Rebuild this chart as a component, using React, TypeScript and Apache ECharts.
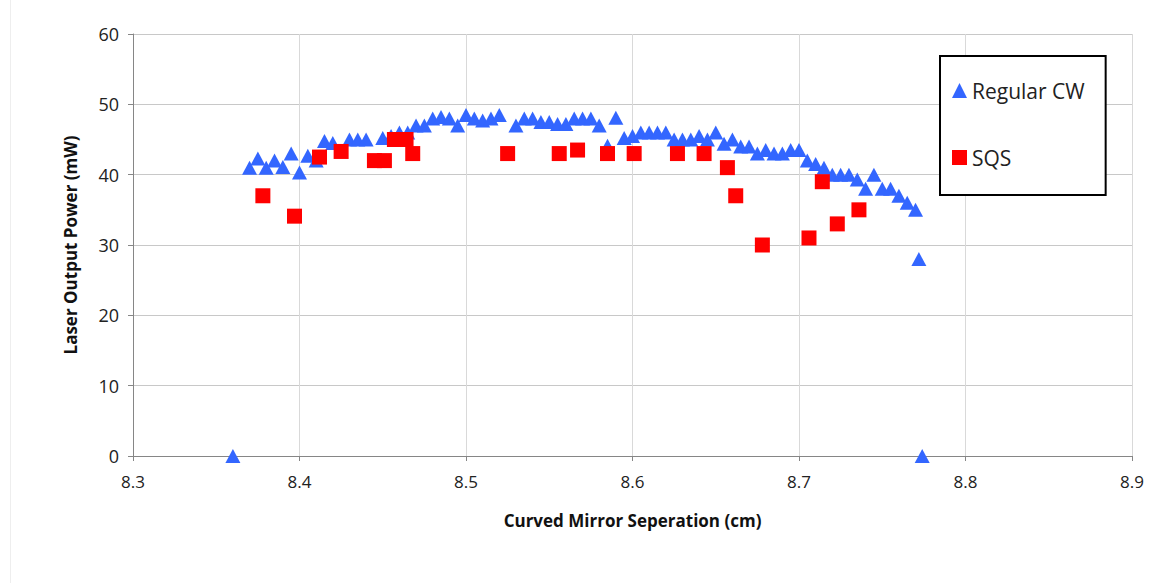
import React, { useEffect, useRef } from "react";
import * as echarts from "echarts";

const xTicks = ["8.3", "8.4", "8.5", "8.6", "8.7", "8.8", "8.9"];
const yTicks = [0, 10, 20, 30, 40, 50, 60];

const regularCW: [number, number][] = [
  [8.36, 0], [8.37, 41], [8.375, 42.3], [8.38, 41], [8.385, 42], [8.39, 41.1],
  [8.395, 43], [8.4, 40.3], [8.405, 42.7], [8.41, 42], [8.415, 44.8], [8.42, 44.5],
  [8.43, 45], [8.435, 45], [8.44, 45], [8.45, 45.2], [8.455, 45.5], [8.46, 46],
  [8.465, 46], [8.47, 47], [8.475, 47], [8.48, 48], [8.485, 48.2], [8.49, 48],
  [8.495, 47], [8.5, 48.5], [8.505, 48], [8.51, 47.7], [8.515, 48], [8.52, 48.5],
  [8.53, 47], [8.535, 48], [8.54, 48], [8.545, 47.5], [8.55, 47.5], [8.555, 47.2],
  [8.56, 47.2], [8.565, 48], [8.57, 48], [8.575, 48], [8.58, 47], [8.585, 44.1],
  [8.59, 48.1], [8.595, 45.2], [8.6, 45.5], [8.605, 46], [8.61, 46], [8.615, 46],
  [8.62, 46], [8.625, 45], [8.63, 45], [8.635, 45], [8.64, 45.5], [8.645, 45],
  [8.65, 46], [8.655, 44.4], [8.66, 45], [8.665, 44], [8.67, 44], [8.675, 43],
  [8.68, 43.5], [8.685, 43], [8.69, 43], [8.695, 43.5], [8.7, 43.5], [8.705, 42],
  [8.71, 41.5], [8.715, 41], [8.72, 40], [8.725, 40], [8.73, 40], [8.735, 39.3],
  [8.74, 38], [8.745, 40], [8.75, 38], [8.755, 38], [8.76, 37], [8.765, 36],
  [8.77, 35], [8.772, 28], [8.774, 0],
];

const sqs: [number, number][] = [
  [8.378, 37], [8.397, 34.1], [8.412, 42.5], [8.425, 43.3], [8.445, 42], [8.451, 42],
  [8.457, 45], [8.464, 45], [8.468, 43], [8.525, 43], [8.556, 43], [8.567, 43.5],
  [8.585, 43], [8.601, 43], [8.627, 43], [8.643, 43], [8.657, 41], [8.662, 37],
  [8.678, 30], [8.706, 31], [8.714, 39], [8.723, 33], [8.736, 35],
];

const FONT = "'Open Sans', 'Noto Sans', sans-serif";

export default function App() {
  const ref = useRef<HTMLDivElement>(null);
  useEffect(() => {
    if (!ref.current) return;
    const chart = echarts.init(ref.current, undefined, { renderer: "svg" });
    chart.setOption({
      animation: false,
      backgroundColor: "#ffffff",
      textStyle: { fontFamily: FONT },
      grid: { left: 133, top: 34, right: 25, bottom: 127, containLabel: false },
      graphic: [
        {
          type: "line",
          shape: { x1: 10.5, y1: 0, x2: 10.5, y2: 583 },
          style: { stroke: "#eeeeee", lineWidth: 1 },
          silent: true,
        },
      ],
      legend: {
        orient: "vertical",
        left: 940,
        top: 56,
        padding: [24, 21, 27, 12],
        itemGap: 46,
        itemWidth: 15,
        itemHeight: 15,
        borderColor: "#000000",
        borderWidth: 2,
        borderRadius: 0,
        backgroundColor: "#ffffff",
        textStyle: { fontSize: 21, color: "#222222", fontFamily: FONT },
        data: [
          { name: "Regular CW", icon: "triangle" },
          { name: "SQS", icon: "rect" },
        ],
      },
      xAxis: {
        type: "value",
        min: 8.3,
        max: 8.9,
        interval: 0.1,
        name: "Curved Mirror Seperation (cm)",
        nameLocation: "middle",
        nameGap: 56,
        nameTextStyle: { fontSize: 17, fontWeight: "bold", color: "#111111", fontFamily: FONT },
        axisLine: { show: true, onZero: false, lineStyle: { color: "#868686", width: 1 } },
        axisTick: { show: true, length: 5, lineStyle: { color: "#868686" } },
        axisLabel: {
          fontSize: 17,
          color: "#222222",
          margin: 17,
          formatter: (v: number) => {
            const s = v.toFixed(1);
            return xTicks.includes(s) ? s : "";
          },
        },
        splitLine: { show: true, lineStyle: { color: "#d9d9d9", width: 1 } },
      },
      yAxis: {
        type: "value",
        min: yTicks[0],
        max: yTicks[yTicks.length - 1],
        interval: 10,
        name: "Laser Output Power (mW)",
        nameLocation: "middle",
        nameGap: 54,
        nameRotate: 90,
        nameTextStyle: { fontSize: 17, fontWeight: "bold", color: "#111111", fontFamily: FONT },
        axisLine: { show: true, lineStyle: { color: "#868686", width: 1 } },
        axisTick: { show: true, length: 5, lineStyle: { color: "#868686" } },
        axisLabel: { fontSize: 18, color: "#222222", margin: 14 },
        splitLine: { show: true, lineStyle: { color: "#c8c8c8", width: 1 } },
      },
      series: [
        {
          name: "Regular CW",
          type: "scatter",
          symbol: "triangle",
          symbolSize: [15, 14],
          itemStyle: { color: "#3366ff", opacity: 1 },
          data: regularCW,
          z: 2,
        },
        {
          name: "SQS",
          type: "scatter",
          symbol: "rect",
          symbolSize: 15,
          itemStyle: { color: "#ff0000", opacity: 1 },
          data: sqs,
          z: 3,
        },
      ],
    });
    return () => chart.dispose();
  }, []);
  return (
    <div
      ref={ref}
      style={{ position: "fixed", left: 0, top: 0, width: 1157, height: 583, background: "#fff" }}
    />
  );
}
